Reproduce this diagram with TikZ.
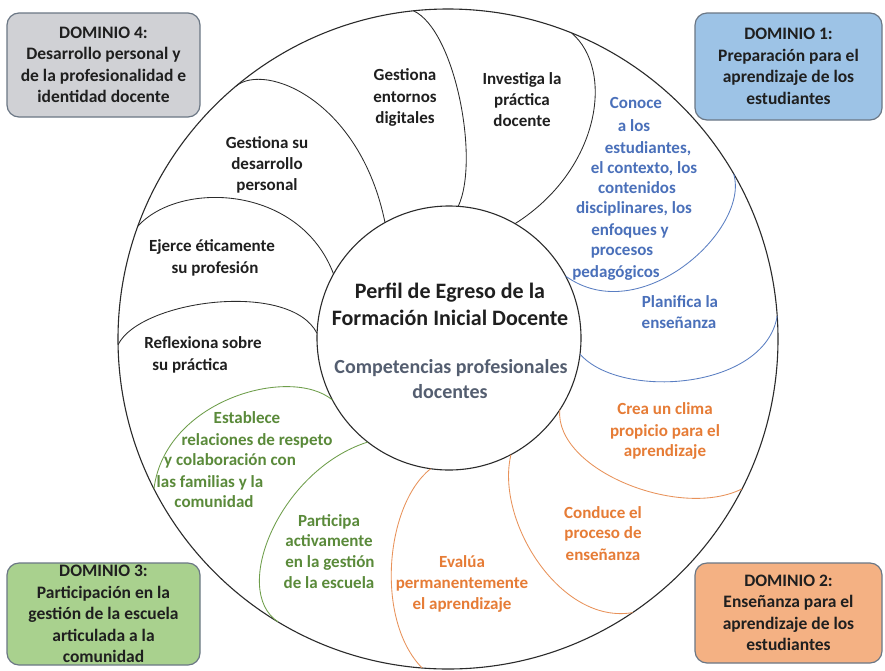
\documentclass[tikz,border=0pt]{standalone}
\usepackage{fontspec}
\setmainfont{Carlito}
\usetikzlibrary{calc}

\definecolor{inkblack}{HTML}{1F1F1F}
\definecolor{inkblue}{HTML}{4A70BA}
\definecolor{inkorange}{HTML}{E67C36}
\definecolor{inkgreen}{HTML}{5A8A3A}
\definecolor{inkslate}{HTML}{545E70}
\definecolor{rimgray}{HTML}{2B2B2B}
\definecolor{lineblue}{HTML}{5A7EC2}
\definecolor{lineorange}{HTML}{E8925A}
\definecolor{linegreen}{HTML}{6E9E4A}
\definecolor{fillgray}{HTML}{D0D1D5}
\definecolor{fillblue}{HTML}{9DC3E6}
\definecolor{fillgreen}{HTML}{A9D18E}
\definecolor{fillorange}{HTML}{F4B183}
\definecolor{boxedge}{HTML}{6B7785}

\tikzset{
  petaltext/.style={font=\bfseries\fontsize{17}{20}\selectfont, inner sep=0pt, anchor=base},
  blacktext/.style={petaltext, text=inkblack},
  bluetext/.style={petaltext, text=inkblue},
  orangetext/.style={petaltext, text=inkorange},
  greentext/.style={petaltext, text=inkgreen},
  titletext/.style={font=\bfseries\fontsize{22}{27}\selectfont, inner sep=0pt, anchor=base, text=inkblack},
  subtext/.style={font=\bfseries\fontsize{20}{25}\selectfont, inner sep=0pt, anchor=base, text=inkslate},
  domainbox/.style={draw=boxedge, line width=1.2pt, rounded corners=12pt,
    align=center, inner sep=0pt, minimum width=193pt,
    font=\bfseries\fontsize{17.5}{21.5}\selectfont, text=inkblack},
  rim/.style={draw=rimgray, line width=1.1pt},
  blackedge/.style={draw=rimgray, line width=0.85pt},
  blueedge/.style={draw=lineblue, line width=0.85pt},
  orangeedge/.style={draw=lineorange, line width=0.85pt},
  greenedge/.style={draw=linegreen, line width=0.85pt},
}

\begin{document}
\begin{tikzpicture}[x=1pt, y=-1pt]
  \useasboundingbox (0,0) rectangle (885,670);
  \fill[white] (0,0) rectangle (885,670);

  % centres of the outer ring and of the inner disc
  \coordinate (O) at (448,339);
  \coordinate (I) at (449,338);

  % outer ring and inner disc
  \draw[rim] (O) circle[radius=330pt];
  \draw[rim] (I) circle[radius=132pt];

  % petal edges: each runs between the ring and the disc
  \coordinate (aO) at ($(O)+(130:330pt)$);  \coordinate (aI) at ($(I)+(119:132pt)$);
  \coordinate (bO) at ($(O)+(96:330pt)$);   \coordinate (bI) at ($(I)+(86:132pt)$);
  \coordinate (cO) at ($(O)+(68:330pt)$);   \coordinate (cI) at ($(I)+(60:132pt)$);
  \coordinate (dO) at ($(O)+(30:330pt)$);   \coordinate (dI) at ($(I)+(28:132pt)$);
  \coordinate (eO) at ($(O)+(4:330pt)$);    \coordinate (eI) at ($(I)+(-7:132pt)$);
  \coordinate (fO) at ($(O)+(-27:330pt)$);  \coordinate (fI) at ($(I)+(-33:132pt)$);
  \coordinate (gO) at ($(O)+(-56:330pt)$);  \coordinate (gI) at ($(I)+(-62:132pt)$);
  \coordinate (hO) at ($(O)+(-94.5:330pt)$);\coordinate (hI) at ($(I)+(-98:132pt)$);
  \coordinate (iO) at ($(O)+(-121:330pt)$); \coordinate (iI) at ($(I)+(-128:132pt)$);
  \coordinate (jO) at ($(O)+(-153:330pt)$); \coordinate (jI) at ($(I)+(-152:132pt)$);
  \coordinate (kO) at ($(O)+(181:330pt)$);  \coordinate (kI) at ($(I)+(178:132pt)$);
  \coordinate (lO) at ($(O)+(160:330pt)$);  \coordinate (lI) at ($(I)+(151:132pt)$);

  \draw[blackedge] (aO) .. controls (265,62) and (360,100) .. (aI);
  \draw[blackedge] (bO) .. controls (455,30) and (480,160) .. (bI);
  \draw[blackedge] (cO) .. controls (615,70) and (600,170) .. (cI);
  \draw[blueedge] (dO) .. controls (750,230) and (640,330) .. (dI);
  \draw[blueedge] (eO) .. controls (765,390) and (620,400) .. (eI);
  \draw[orangeedge] (fI) .. controls (555,470) and (680,520) .. (fO);
  \draw[orangeedge] (gI) .. controls (495,520) and (560,625) .. (gO);
  \draw[orangeedge] (hI) .. controls (385,505) and (375,620) .. (hO);
  \draw[greenedge] (iI) .. controls (280,470) and (230,590) .. (iO);
  \draw[greenedge] (jO) .. controls (165,400) and (290,365) .. (jI);
  \draw[blackedge] (kO) .. controls (140,300) and (290,280) .. (kI);
  \draw[blackedge] (lO) .. controls (180,180) and (300,185) .. (lI);

  % centre
  \node[titletext] (t1) at (450,298) {Perfil de Egreso de la};
  \node[titletext] (t2) at (450,325) {Formación Inicial Docente};
  \node[subtext] (s1) at (451,373) {Competencias profesionales};
  \node[subtext] (s2) at (450,398) {docentes};

  % personal and professional development
  \node[blacktext] (ge1) at (405,80) {Gestiona};
  \node[blacktext] (ge2) at (405,102) {entornos};
  \node[blacktext] (ge3) at (405,123) {digitales};
  \node[blacktext] (in1) at (522,84) {Investiga la};
  \node[blacktext] (in2) at (522,105) {práctica};
  \node[blacktext] (in3) at (522,126) {docente};
  \node[blacktext] (gs1) at (267,148) {Gestiona su};
  \node[blacktext] (gs2) at (267,169) {desarrollo};
  \node[blacktext] (gs3) at (267,190) {personal};
  \node[blacktext] (ej1) at (212,251) {Ejerce éticamente};
  \node[blacktext] (ej2) at (215,273) {su profesión};
  \node[blacktext] (re1) at (203,348) {Reflexiona sobre};
  \node[blacktext] (re2) at (190,370) {su práctica};

  % preparation for learning
  \node[bluetext] (co1) at (636,108) {Conoce};
  \node[bluetext] (co2) at (634,131) {a los};
  \node[bluetext] (co3) at (648,153) {estudiantes,};
  \node[bluetext] (co4) at (644,173) {el contexto, los};
  \node[bluetext] (co5) at (637,193) {contenidos};
  \node[bluetext] (co6) at (634,213) {disciplinares, los};
  \node[bluetext] (co7) at (630,235) {enfoques y};
  \node[bluetext] (co8) at (622,255) {procesos};
  \node[bluetext] (co9) at (616,277) {pedagógicos};
  \node[bluetext] (pl1) at (680,307) {Planifica la};
  \node[bluetext] (pl2) at (679,328) {enseñanza};

  % teaching
  \node[orangetext] (cr1) at (665,414) {Crea un clima};
  \node[orangetext] (cr2) at (665,436) {propicio para el};
  \node[orangetext] (cr3) at (665,456) {aprendizaje};
  \node[orangetext] (cd1) at (603,518) {Conduce el};
  \node[orangetext] (cd2) at (603,538) {proceso de};
  \node[orangetext] (cd3) at (603,560) {enseñanza};
  \node[orangetext] (ev1) at (462,567) {Evalúa};
  \node[orangetext] (ev2) at (462,588) {permanentemente};
  \node[orangetext] (ev3) at (462,609) {el aprendizaje};

  % school and community
  \node[greentext] (es1) at (247,423) {Establece};
  \node[greentext] (es2) at (257,445) {relaciones de respeto};
  \node[greentext] (es3) at (230,465) {y colaboración con};
  \node[greentext] (es4) at (210,487) {las familias y la};
  \node[greentext] (es5) at (214,507) {comunidad};
  \node[greentext] (pa1) at (329,526) {Participa};
  \node[greentext] (pa2) at (329,546) {activamente};
  \node[greentext] (pa3) at (330,567) {en la gestión};
  \node[greentext] (pa4) at (329,588) {de la escuela};

  % domain boxes
  \node[domainbox, fill=fillgray, minimum height=104pt] (dom4) at (103.5,65)
    {DOMINIO 4:\\Desarrollo personal y\\de la profesionalidad e\\identidad docente};
  \node[domainbox, fill=fillblue, minimum width=187pt, minimum height=107pt] (dom1) at (788.5,66.5)
    {DOMINIO 1:\\Preparación para el\\aprendizaje de los\\estudiantes};
  \node[domainbox, fill=fillgreen, minimum height=102pt] (dom3) at (103.5,614)
    {DOMINIO 3:\\Participación en la\\gestión de la escuela\\articulada a la\\comunidad};
  \node[domainbox, fill=fillorange, minimum width=187pt, minimum height=100pt] (dom2) at (788.5,613)
    {DOMINIO 2:\\Enseñanza para el\\aprendizaje de los\\estudiantes};
\end{tikzpicture}
\end{document}
